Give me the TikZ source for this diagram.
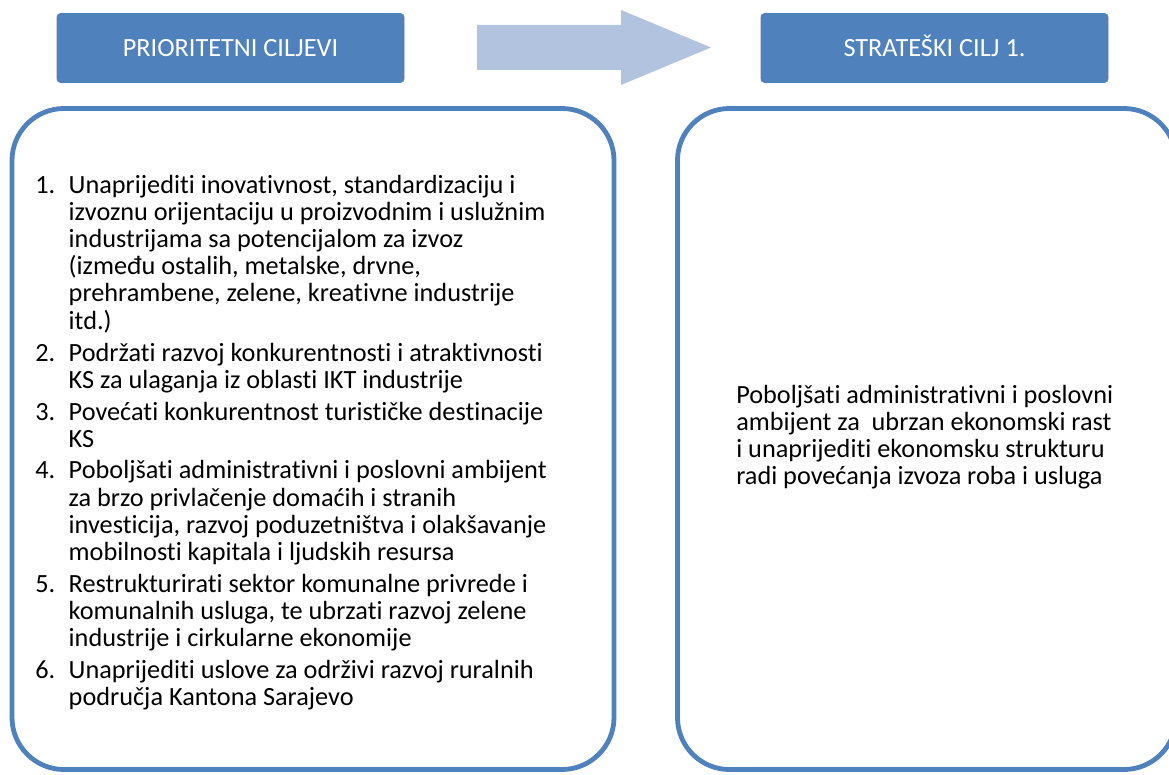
\documentclass[tikz,border=0pt]{standalone}
\usepackage{fontspec}
\setmainfont{Carlito}[Ligatures=NoCommon]
\usepackage{xcolor}
\usepackage{tikz}

\definecolor{hdrblue}{RGB}{79,129,189}
\definecolor{arrowblue}{RGB}{177,195,222}

\tikzset{
  hdrbox/.style={fill=hdrblue, draw=hdrblue, rounded corners=2.5pt, minimum width=260.25pt, minimum height=51.75pt, inner sep=0pt, text height=12.7pt, text depth=0pt, text=white, font=\fontsize{19.7}{20.4}\selectfont},
  bigbox/.style={draw=hdrblue, line width=3.6pt, rounded corners=39pt, minimum height=495.75pt, inner sep=0pt},
  bodytext/.style={inner sep=0pt, font=\fontsize{19.7}{20.4}\selectfont}
}

\begin{document}
\begin{tikzpicture}[x=0.75pt,y=0.75pt,yscale=-1,xscale=1]
\clip (0,0) rectangle (1169,774);

%Header boxes
\node (hdrL) [hdrbox] at (230.5,48) {PRIORITETNI CILJEVI};
\node (hdrR) [hdrbox] at (934.5,48) {STRATEŠKI CILJ 1.};

%Block arrow
\draw [fill=arrowblue, draw=none] (477,25) -- (621,25) -- (621,10) -- (711,47.5) -- (621,85) -- (621,70) -- (477,70) -- cycle ;

%Rounded boxes
\node (boxL) [bigbox, minimum width=451.5pt] at (313,439) {};
\node (boxR) [bigbox, minimum width=373.9pt] at (926.75,439) {};

% Text Node
\node (listL) [bodytext, anchor=base west] at (35,193) {%
\begin{tabular}[t]{@{}p{25.1pt}@{}l@{}}
1. & Unaprijediti inovativnost, standardizaciju i\\
   & izvoznu orijentaciju u proizvodnim i uslužnim\\
   & industrijama sa potencijalom za izvoz\\
   & (između ostalih, metalske, drvne,\\
   & prehrambene, zelene, kreativne industrije\\
   & itd.)\\[3.4pt]
2. & Podržati razvoj konkurentnosti i atraktivnosti\\
   & KS za ulaganja iz oblasti IKT industrije\\[3.4pt]
3. & Povećati konkurentnost turističke destinacije\\
   & KS\\[3.4pt]
4. & Poboljšati administrativni i poslovni ambijent\\
   & za brzo privlačenje domaćih i stranih\\
   & investicija, razvoj poduzetništva i olakšavanje\\
   & mobilnosti kapitala i ljudskih resursa\\[3.4pt]
5. & Restrukturirati sektor komunalne privrede i\\
   & komunalnih usluga, te ubrzati razvoj zelene\\
   & industrije i cirkularne ekonomije\\[3.4pt]
6. & Unaprijediti uslove za održivi razvoj ruralnih\\
   & područja Kantona Sarajevo
\end{tabular}};
% Text Node
\node (goalR) [bodytext, anchor=base west] at (736,403) {%
\begin{tabular}[t]{@{}l@{}}
Poboljšati administrativni i poslovni\\
ambijent za\ \ ubrzan ekonomski rast\\
i unaprijediti ekonomsku strukturu\\
radi povećanja izvoza roba i usluga
\end{tabular}};

\end{tikzpicture}
\end{document}
